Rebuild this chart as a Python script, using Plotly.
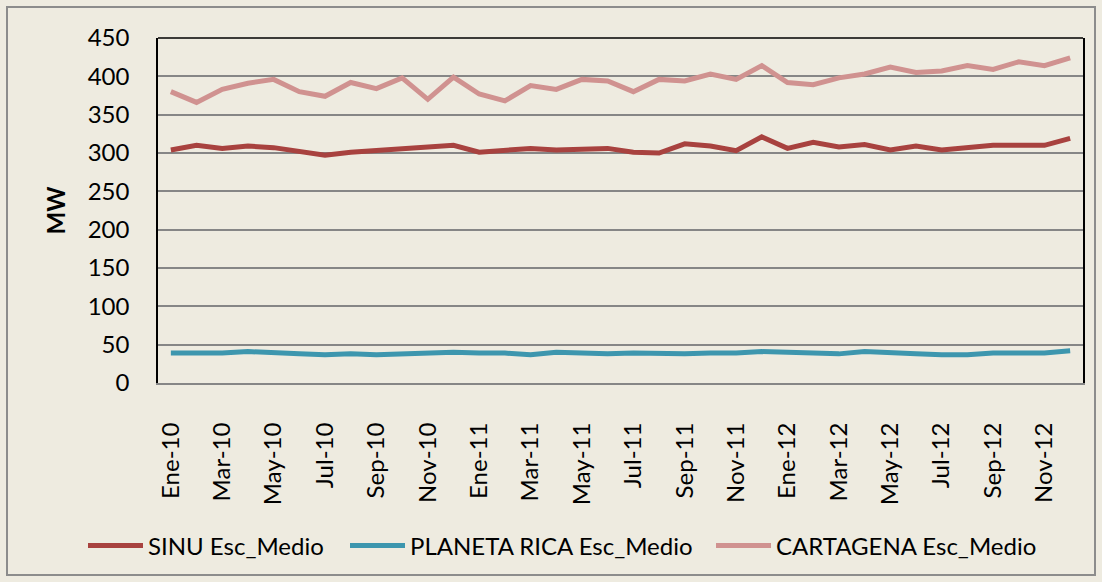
import plotly.graph_objects as go

months = ["Ene", "Feb", "Mar", "Abr", "May", "Jun", "Jul", "Ago", "Sep", "Oct", "Nov", "Dic"]
years = ["10", "11", "12"]
categories = [f"{m}-{y}" for y in years for m in months]
tick_labels = [c for i, c in enumerate(categories) if i % 2 == 0]

sinu = [304, 310, 306, 309, 307, 302, 297, 301, 303, 305, 307, 310,
        301, 304, 306, 304, 305, 306, 301, 300, 312, 309, 303, 321,
        306, 314, 308, 311, 304, 309, 304, 307, 310, 310, 310, 319]
planeta_rica = [39, 39, 39, 41, 39, 38, 37, 38, 37, 38, 38, 40,
                39, 39, 37, 40, 39, 38, 39, 38, 38, 39, 39, 41,
                40, 39, 38, 41, 39, 38, 37, 37, 39, 39, 39, 42]
cartagena = [380, 366, 383, 391, 396, 380, 374, 392, 384, 398, 370, 399,
             377, 368, 388, 383, 396, 394, 380, 396, 394, 403, 396, 414,
             392, 389, 398, 403, 412, 405, 407, 414, 409, 419, 414, 424]

series_names = ["SINU Esc_Medio", "PLANETA RICA Esc_Medio", "CARTAGENA Esc_Medio"]
series_values = [sinu, planeta_rica, cartagena]
series_colors = ["#A8423F", "#3D96AE", "#D09290"]

FONT = "Lato, Open Sans, sans-serif"
FS = 24

# plot-area geometry in pixels (for converting legend/frame positions)
L, R, T, B = 158, 19, 38, 199
PW, PH = 1102 - L - R, 582 - T - B

legend_px = [83, 345, 711]
legend_names = ["legend", "legend2", "legend3"]

fig = go.Figure()
for name, vals, color, lg in zip(series_names, series_values, series_colors, legend_names):
    fig.add_trace(go.Scatter(x=categories, y=vals, name=name, mode="lines",
                             line=dict(color=color, width=5), legend=lg))

legend_y = (582 - B - 546) / PH
legends = {}
for lg, px in zip(legend_names, legend_px):
    legends[lg] = dict(orientation="h", x=(px - L) / PW, xanchor="left", y=legend_y,
                       yanchor="middle", font=dict(size=FS, family=FONT, color="#000000"),
                       itemwidth=55, bgcolor="rgba(0,0,0,0)", borderwidth=0)

fig.update_layout(
    width=1102, height=582,
    paper_bgcolor="#EEEBE0", plot_bgcolor="#EEEBE0",
    margin=dict(l=L, r=R, t=T, b=B, autoexpand=False),
    font=dict(family=FONT, size=FS, color="#000000"),
    showlegend=True,
    **legends,
    xaxis=dict(type="category", tickmode="array", tickvals=tick_labels, ticktext=tick_labels,
               tickangle=-90, showgrid=False, showline=True, linecolor="#868686", linewidth=2,
               ticks="", ticklabelstandoff=28, tickfont=dict(size=FS, family=FONT),
               range=[-0.5, 35.5]),
    yaxis=dict(range=[0, 450], dtick=50, showgrid=True, gridcolor="#868686", gridwidth=1.5,
               showline=True, linecolor="#000000", linewidth=1.5, mirror=True, zeroline=False,
               ticks="", ticklabelstandoff=22, tickfont=dict(size=FS, family=FONT),
               title=dict(text="<b>MW</b>", font=dict(size=FS, family=FONT), standoff=15)),
    shapes=[
        dict(type="line", xref="paper", yref="paper", x0=0, x1=1, y0=1, y1=1,
             line=dict(color="#000000", width=1.5)),
        dict(type="rect", xref="paper", yref="paper",
             x0=-151 / PW, x1=1 + 12 / PW, y0=-192 / PH, y1=1 + 31 / PH,
             line=dict(color="#8C8C8C", width=2), layer="below"),
    ],
)

fig.write_html("out.html", config={"displayModeBar": False},
               post_script="document.body.style.margin='0px';")
